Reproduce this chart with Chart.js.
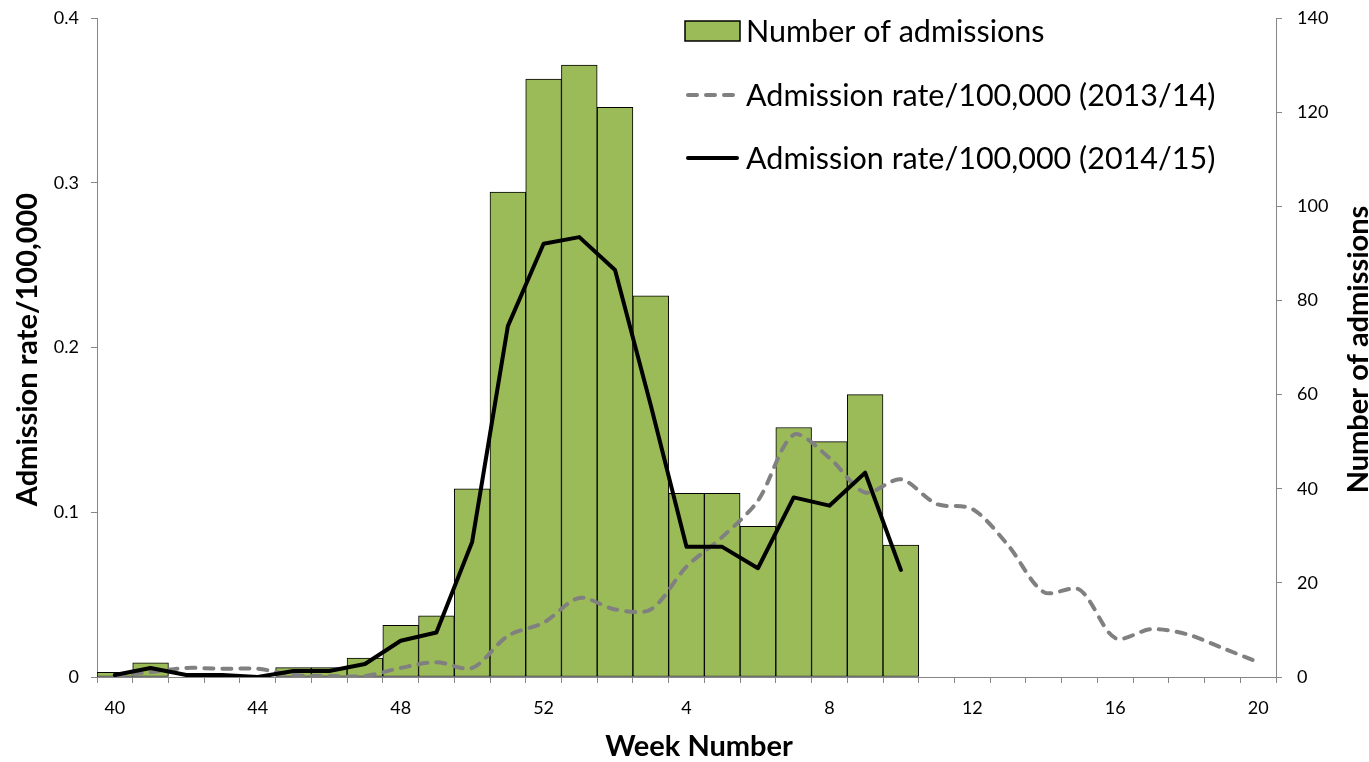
<!DOCTYPE html>
<html>
<head>
<meta charset="utf-8">
<title>Admissions by week</title>
<script src="https://cdn.jsdelivr.net/npm/chart.js@4.4.1/dist/chart.umd.min.js"></script>
<style>
  html, body { margin: 0; padding: 0; background: #ffffff; }
  #wrap { width: 1369px; height: 762px; }
</style>
</head>
<body>
<div id="wrap"><canvas id="chart"></canvas></div>
<script>
(function () {
  'use strict';

  // ---- Data ------------------------------------------------
  const weeks = [
    '40', '41', '42', '43', '44', '45', '46', '47', '48', '49', '50', '51', '52',
    '1', '2', '3', '4', '5', '6', '7', '8', '9', '10',
    '11', '12', '13', '14', '15', '16', '17', '18', '19', '20'
  ];
  const shownWeeks = ['40', '44', '48', '52', '4', '8', '12', '16', '20'];

  // bars, right axis
  const admissions = [
    1, 3, 0, 0, 0, 2, 2, 4, 11, 13, 40, 103, 127,
    130, 121, 81, 39, 39, 32, 53, 50, 60, 28,
    null, null, null, null, null, null, null, null, null, null
  ];
  // dashed grey, left axis
  const rate1314 = [
    0.0006, 0.003, 0.0055, 0.005, 0.005, 0.0012, 0.0006, 0.0006, 0.0055, 0.009, 0.0055, 0.025, 0.033,
    0.048, 0.041, 0.041, 0.067, 0.085, 0.107, 0.147, 0.133, 0.112, 0.120,
    0.105, 0.102, 0.080, 0.0515, 0.053, 0.0236, 0.029, 0.026, 0.0176, 0.009
  ];
  // solid black, left axis
  const rate1415 = [
    0.0012, 0.0055, 0.0012, 0.0012, 0.0, 0.0036, 0.0036, 0.0079, 0.022, 0.027, 0.082, 0.213, 0.263,
    0.267, 0.247, 0.165, 0.079, 0.079, 0.066, 0.109, 0.104, 0.124, 0.065,
    null, null, null, null, null, null, null, null, null, null
  ];

  const rateTicks  = [0, 0.1, 0.2, 0.3, 0.4];
  const countTicks = [0, 20, 40, 60, 80, 100, 120, 140];

  // ---- Styles ----------------------------------------------
  const FONT       = "Lato, 'Open Sans', sans-serif";
  const GREEN      = '#9BBB59';
  const GREY_LINE  = '#808080';
  const AXIS_GREY  = '#868686';
  const TEXT       = '#000000';

  Chart.defaults.font.family = FONT;
  Chart.defaults.color = TEXT;

  // y scales: fixed width, no extra room reserved for half tick labels
  function fixY(width) {
    return function (s) {
      s.width = width;
      s.paddingTop = 0;
      s.paddingBottom = 0;
    };
  }

  // ---- Axis titles (right one reads bottom-to-top, like Excel) ----
  const axisTitles = {
    id: 'axisTitles',
    afterDraw(chart) {
      const ctx = chart.ctx;
      const area = chart.chartArea;
      const midY = (area.top + area.bottom) / 2;
      ctx.save();
      ctx.fillStyle = TEXT;
      ctx.font = 'bold 29px ' + FONT;
      ctx.textAlign = 'center';
      ctx.textBaseline = 'middle';

      ctx.save();
      ctx.translate(28, midY + 2);
      ctx.rotate(-Math.PI / 2);
      ctx.fillText('Admission rate/100,000', 0, 0);
      ctx.restore();

      ctx.save();
      ctx.translate(1359, midY + 2);
      ctx.rotate(-Math.PI / 2);
      ctx.fillText('Number of admissions', 0, 0);
      ctx.restore();

      ctx.fillText('Week Number', 699, 747);
      ctx.restore();
    }
  };

  // ---- Legend drawn inside the plot, top right ------------
  const insideLegend = {
    id: 'insideLegend',
    afterDraw(chart) {
      const ctx = chart.ctx;
      const ds = chart.data.datasets;
      const x0 = 685, x1 = 740, tx = 746;
      const rows = [31, 95, 158];
      ctx.save();
      ctx.font = '30.5px ' + FONT;
      ctx.textAlign = 'left';
      ctx.textBaseline = 'middle';

      // bars
      ctx.fillStyle = ds[0].backgroundColor;
      ctx.fillRect(x0, rows[0] - 10, x1 - x0, 20);
      ctx.strokeStyle = '#000';
      ctx.lineWidth = 1.5;
      ctx.strokeRect(x0, rows[0] - 10, x1 - x0, 20);

      // lines
      [1, 2].forEach(function (i, k) {
        const y = rows[k + 1];
        ctx.beginPath();
        ctx.setLineDash(ds[i].borderDash || []);
        ctx.lineCap = ds[i].borderCapStyle || 'butt';
        ctx.strokeStyle = ds[i].borderColor;
        ctx.lineWidth = ds[i].borderWidth;
        ctx.moveTo(x0 + 3, y);
        ctx.lineTo(x1 - 3, y);
        ctx.stroke();
      });
      ctx.setLineDash([]);

      ctx.fillStyle = TEXT;
      ds.forEach(function (d, i) {
        ctx.fillText(d.label, tx, rows[i] + 1);
      });
      ctx.restore();
    }
  };

  const ctx = document.getElementById('chart').getContext('2d');

  new Chart(ctx, {
    type: 'bar',
    data: {
      labels: weeks,
      datasets: [
        {
          type: 'bar',
          label: 'Number of admissions',
          data: admissions,
          yAxisID: 'yR',
          backgroundColor: GREEN,
          borderColor: '#000000',
          borderWidth: 1,
          borderSkipped: false,
          barPercentage: 1,
          categoryPercentage: 1,
          order: 3
        },
        {
          type: 'line',
          label: 'Admission rate/100,000 (2013/14)',
          data: rate1314,
          yAxisID: 'yL',
          borderColor: GREY_LINE,
          borderWidth: 4,
          borderDash: [9, 9],
          borderCapStyle: 'round',
          borderJoinStyle: 'round',
          pointRadius: 0,
          tension: 0.3,
          fill: false,
          order: 2
        },
        {
          type: 'line',
          label: 'Admission rate/100,000 (2014/15)',
          data: rate1415,
          yAxisID: 'yL',
          borderColor: '#000000',
          borderWidth: 4,
          borderCapStyle: 'round',
          borderJoinStyle: 'round',
          pointRadius: 0,
          tension: 0,
          fill: false,
          order: 1
        }
      ]
    },
    options: {
      responsive: true,
      maintainAspectRatio: false,
      animation: false,
      layout: { padding: { top: 18, right: 0, bottom: 0, left: 0 } },
      plugins: {
        legend: { display: false },
        tooltip: { enabled: false }
      },
      scales: {
        x: {
          offset: true,
          grid: {
            offset: true,
            drawOnChartArea: false,
            drawTicks: true,
            tickLength: 6,
            color: AXIS_GREY
          },
          border: { display: true, color: AXIS_GREY, width: 1 },
          ticks: {
            autoSkip: false,
            maxRotation: 0,
            minRotation: 0,
            padding: 14,
            color: TEXT,
            font: { size: 18 },
            callback: function (v, i) {
              const w = weeks[i];
              return shownWeeks.indexOf(w) >= 0 ? w : '';
            }
          },
          afterFit: function (s) {
            s.height = 85;
            s.paddingLeft = 0;
            s.paddingRight = 0;
          }
        },
        yL: {
          position: 'left',
          min: 0,
          max: 0.4,
          afterBuildTicks: function (s) { s.ticks = rateTicks.map(v => ({ value: v })); },
          grid: {
            drawOnChartArea: false,
            drawTicks: true,
            tickLength: 6,
            color: AXIS_GREY
          },
          border: { display: true, color: AXIS_GREY, width: 1 },
          ticks: {
            padding: 12,
            color: TEXT,
            font: { size: 18 },
            callback: v => (v === 0 ? '0' : v.toFixed(1))
          },
          afterFit: fixY(97)
        },
        yR: {
          position: 'right',
          min: 0,
          max: 140,
          afterBuildTicks: function (s) { s.ticks = countTicks.map(v => ({ value: v })); },
          grid: {
            drawOnChartArea: false,
            drawTicks: true,
            tickLength: 6,
            color: AXIS_GREY
          },
          border: { display: true, color: AXIS_GREY, width: 1 },
          ticks: {
            padding: 15,
            color: TEXT,
            font: { size: 18 },
            callback: v => String(v)
          },
          afterFit: fixY(93)
        }
      }
    },
    plugins: [axisTitles, insideLegend]
  });
})();
</script>
</body>
</html>
